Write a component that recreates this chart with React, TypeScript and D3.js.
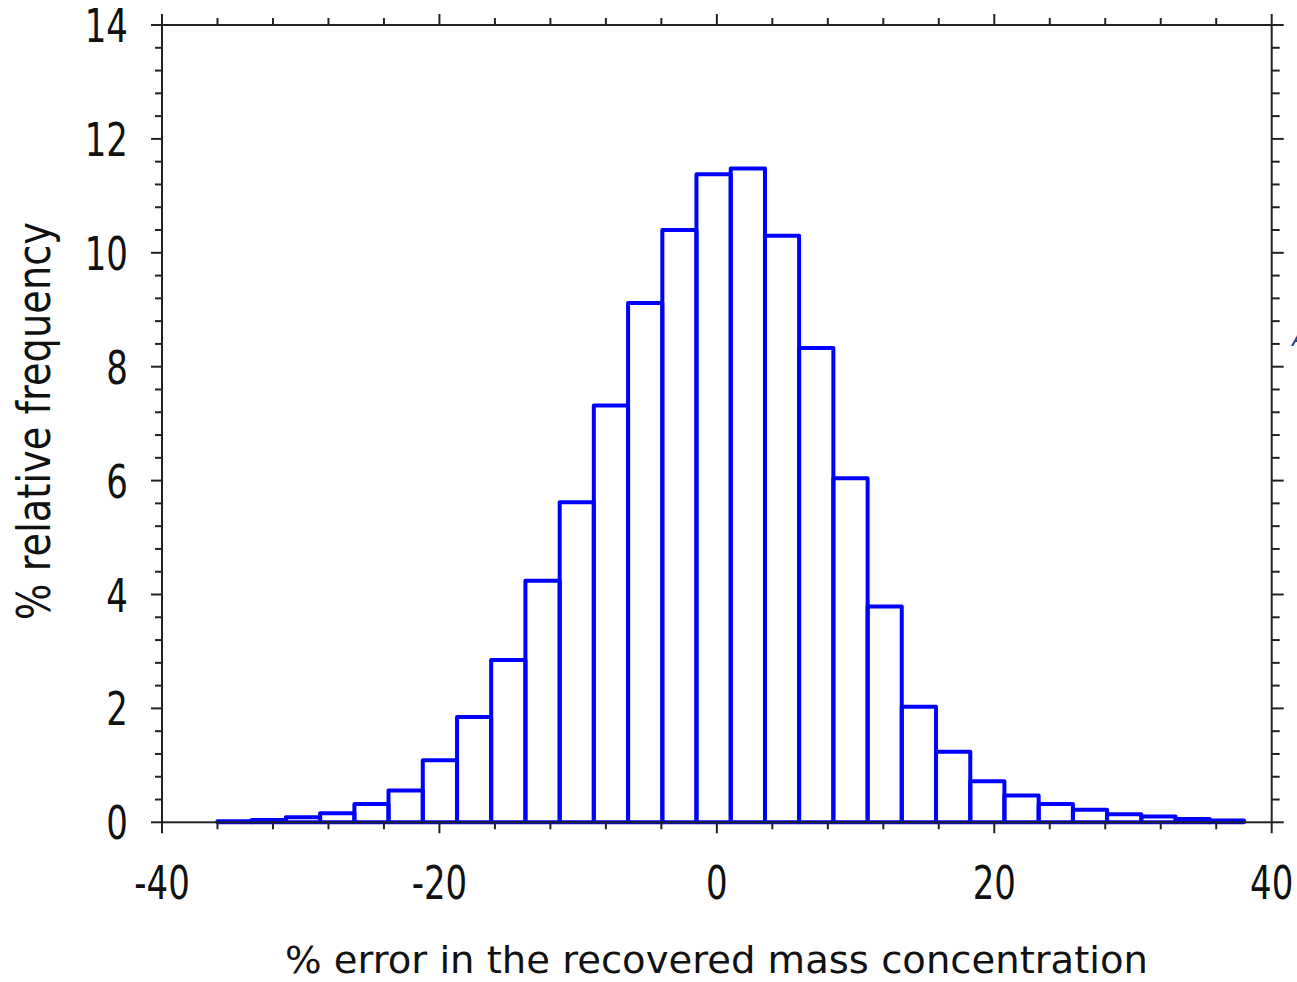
import React from "react";
import * as d3 from "d3";

// Histogram bin edges (% error) and relative frequencies (%)
const binEdges = [
  -36, -33.53, -31.07, -28.6, -26.13, -23.67, -21.2, -18.73, -16.27, -13.8,
  -11.33, -8.87, -6.4, -3.93, -1.47, 1.0, 3.47, 5.93, 8.4, 10.87,
  13.33, 15.8, 18.27, 20.73, 23.2, 25.67, 28.13, 30.6, 33.07, 35.53, 38,
];
const frequencies = [
  0.02, 0.04, 0.09, 0.16, 0.32, 0.56, 1.09, 1.85, 2.85, 4.24,
  5.62, 7.32, 9.12, 10.4, 11.38, 11.48, 10.3, 8.33, 6.04, 3.79,
  2.03, 1.24, 0.72, 0.47, 0.32, 0.22, 0.14, 0.1, 0.06, 0.03,
];
const xMajorTicks = [-40, -20, 0, 20, 40];
const xMinorTicks = [-36, -32, -28, -24, -16, -12, -8, -4, 4, 8, 12, 16, 24, 28, 32, 36];
const yMajorTicks = [0, 2, 4, 6, 8, 10, 12, 14];
const xLabel = "% error in the recovered mass concentration";
const yLabel = "% relative frequency";

const W = 1297;
const H = 982;
const left = 162;
const right = 1271.7;
const top = 25;
const bottom = 822.3;

export default function App() {
  const x = d3.scaleLinear().domain([-40, 40]).range([left, right]);
  const y = d3.scaleLinear().domain([0, 14]).range([bottom, top]);
  const yMinor = d3.range(0, 14.0001, 0.4).filter(
    (v) => Math.abs(v / 2 - Math.round(v / 2)) > 1e-6
  );
  const axisColor = "#222";
  const font = "'DejaVu Sans', Verdana, sans-serif";
  const tickFont = 34;
  const tickStretch = 1.36;

  return (
    <div style={{ position: "absolute", left: 0, top: 0 }}>
      <svg width={W} height={H} style={{ display: "block", background: "#fff" }}>
        <rect x={0} y={0} width={W} height={H} fill="#fff" />
        {/* bars */}
        <g>
          {frequencies.map((f, i) => (
            <rect
              key={i}
              x={x(binEdges[i])}
              y={y(f)}
              width={x(binEdges[i + 1]) - x(binEdges[i])}
              height={y(0) - y(f)}
              fill="none"
              stroke="#0000ff"
              strokeWidth={4}
              strokeLinejoin="round"
            />
          ))}
        </g>
        {/* frame */}
        <rect
          x={left}
          y={top}
          width={right - left}
          height={bottom - top}
          fill="none"
          stroke={axisColor}
          strokeWidth={2}
        />
        {/* x ticks bottom & top */}
        {xMajorTicks.map((t) => (
          <g key={"xM" + t}>
            <line x1={x(t)} x2={x(t)} y1={bottom} y2={bottom + 11} stroke={axisColor} strokeWidth={2} />
            <line x1={x(t)} x2={x(t)} y1={top} y2={top - 11} stroke={axisColor} strokeWidth={2} />
          </g>
        ))}
        {xMinorTicks.map((t) => (
          <g key={"xm" + t}>
            <line x1={x(t)} x2={x(t)} y1={bottom} y2={bottom + 7} stroke={axisColor} strokeWidth={2} />
            <line x1={x(t)} x2={x(t)} y1={top} y2={top - 7} stroke={axisColor} strokeWidth={2} />
          </g>
        ))}
        {/* y ticks left & right */}
        {yMajorTicks.map((t) => (
          <g key={"yM" + t}>
            <line x1={left} x2={left - 11} y1={y(t)} y2={y(t)} stroke={axisColor} strokeWidth={2} />
            <line x1={right} x2={right + 12} y1={y(t)} y2={y(t)} stroke={axisColor} strokeWidth={2} />
          </g>
        ))}
        {yMinor.map((t) => (
          <g key={"ym" + t}>
            <line x1={left} x2={left - 7} y1={y(t)} y2={y(t)} stroke={axisColor} strokeWidth={2} />
            <line x1={right} x2={right + 8} y1={y(t)} y2={y(t)} stroke={axisColor} strokeWidth={2} />
          </g>
        ))}
        {/* x tick labels */}
        {xMajorTicks.map((t) => (
          <text
            key={"xl" + t}
            transform={`translate(${x(t)}, 899) scale(1, ${tickStretch})`}
            textAnchor="middle"
            fontFamily={font}
            fontSize={tickFont}
            fill="#111"
          >
            {String(t)}
          </text>
        ))}
        {/* y tick labels */}
        {yMajorTicks.map((t) => (
          <text
            key={"yl" + t}
            transform={`translate(128, ${y(t) + 17}) scale(1, ${tickStretch})`}
            textAnchor="end"
            fontFamily={font}
            fontSize={tickFont}
            fill="#111"
          >
            {String(t)}
          </text>
        ))}
        {/* axis titles */}
        <text
          x={716.5}
          y={973}
          textAnchor="middle"
          fontFamily={font}
          fontSize={38}
          fill="#111"
          textLength={863}
          lengthAdjust="spacingAndGlyphs"
        >
          {xLabel}
        </text>
        <text
          transform={`translate(50, 421) rotate(-90)`}
          textAnchor="middle"
          fontFamily={font}
          fontSize={46}
          fill="#111"
          textLength={398}
          lengthAdjust="spacingAndGlyphs"
        >
          {yLabel}
        </text>
        {/* clipped fragment at the right edge */}
        <text
          x={1292}
          y={346}
          fontFamily={font}
          fontSize={22}
          fontStyle="italic"
          fill="#1f3f8a"
        >
          A
        </text>
      </svg>
    </div>
  );
}
